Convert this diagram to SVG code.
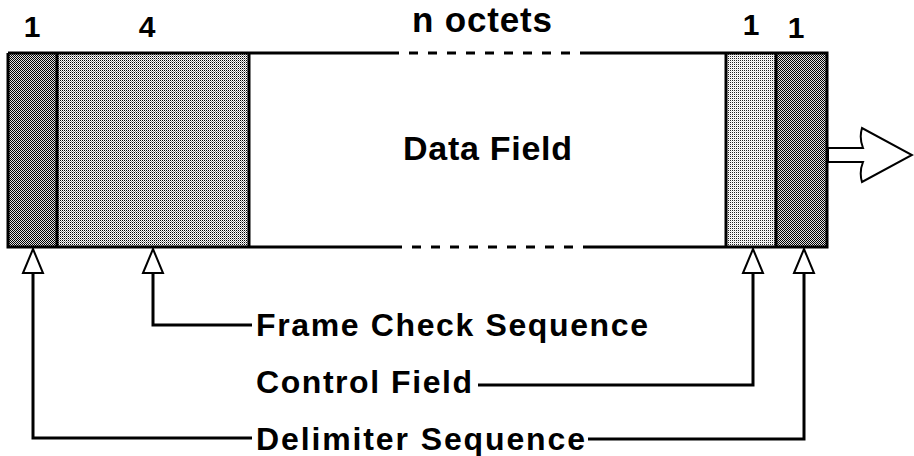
<svg xmlns="http://www.w3.org/2000/svg" width="914" height="456" viewBox="0 0 914 456">
<style>
  .lbl { font-family: "Liberation Sans", Arial, sans-serif; font-weight: bold; fill: #000; }
  .edge { fill: none; stroke: #000; stroke-width: 3; }
  .div { stroke: #000; stroke-width: 3; }
  .conn { fill: none; stroke: #000; stroke-width: 3; marker-start: url(#hollow); }
</style>
<defs>
  <pattern id="patDark" width="2" height="2" patternUnits="userSpaceOnUse">
    <rect width="2" height="2" fill="#e0e0e0"/>
    <rect x="0" y="0" width="1" height="1" fill="#000"/>
    <rect x="1" y="1" width="1" height="1" fill="#000"/>
  </pattern>
  <pattern id="patMid" width="2" height="2" patternUnits="userSpaceOnUse">
    <rect width="2" height="2" fill="#fff"/>
    <rect x="0" y="0" width="1" height="1" fill="#000"/>
    <rect x="1" y="1" width="1" height="1" fill="#8a8a8a"/>
  </pattern>
  <pattern id="patLight" width="2" height="2" patternUnits="userSpaceOnUse">
    <rect width="2" height="2" fill="#fff"/>
    <rect x="0" y="0" width="1" height="1" fill="#222"/>
    <rect x="1" y="1" width="1" height="1" fill="#e0e0e0"/>
  </pattern>
  <marker id="hollow" viewBox="-2 -2 28 24" markerWidth="28" markerHeight="24" refX="0" refY="10" orient="auto-start-reverse" markerUnits="userSpaceOnUse">
    <path d="M0,0 L24,10 L0,20 Z" fill="#fff" stroke="#000" stroke-width="2" stroke-linejoin="miter"/>
  </marker>
</defs>
<rect width="914" height="456" fill="#fff"/>

<g id="delimiter-start">
  <rect x="8" y="53" width="49" height="194" fill="url(#patDark)"/>
  <text class="lbl" x="32" y="37" font-size="30" text-anchor="middle">1</text>
</g>
<g id="frame-check-sequence">
  <rect x="57" y="53" width="192" height="194" fill="url(#patMid)"/>
  <text class="lbl" x="147" y="37" font-size="30" text-anchor="middle">4</text>
</g>
<g id="data-field">
  <rect x="249" y="53" width="477" height="194" fill="#fff"/>
  <text class="lbl" x="412" y="32" font-size="35" textLength="140">n octets</text>
  <text class="lbl" x="403" y="160" font-size="34" textLength="169">Data Field</text>
</g>
<g id="control-field">
  <rect x="726" y="53" width="50" height="194" fill="url(#patLight)"/>
  <text class="lbl" x="751" y="35" font-size="30" text-anchor="middle">1</text>
</g>
<g id="delimiter-end">
  <rect x="776" y="53" width="51" height="194" fill="url(#patDark)"/>
  <text class="lbl" x="796" y="38" font-size="30" text-anchor="middle">1</text>
</g>

<g id="frame-outline">
  <path class="edge" d="M8,53 H390 M583,53 H827 V247 H585 M393,247 H8 V53"/>
  <path class="edge" d="M390,53 H583 M393,247 H585" stroke-dasharray="9 10"/>
  <line class="div" x1="57" y1="53" x2="57" y2="247"/>
  <line class="div" x1="249" y1="53" x2="249" y2="247"/>
  <line class="div" x1="726" y1="53" x2="726" y2="247"/>
  <line class="div" x1="776" y1="53" x2="776" y2="247"/>
</g>

<g id="output-arrow">
  <path d="M828,148 H863 Q859,138 862,128 L912,155 L862,182 Q859,172 863,162 H828 Z" fill="#fff" stroke="#000" stroke-width="2" stroke-linejoin="miter"/>
</g>

<g id="labels">
  <text class="lbl" x="256" y="336" font-size="32" textLength="392">Frame Check Sequence</text>
  <text class="lbl" x="256" y="393" font-size="32" textLength="216">Control Field</text>
  <text class="lbl" x="256" y="450" font-size="32" textLength="329">Delimiter Sequence</text>
</g>

<g id="connectors">
  <path class="conn" d="M33,273 V438 H252"/>
  <path class="conn" d="M153,273 V325 H252"/>
  <path class="conn" d="M753,273 V385 H478"/>
  <path class="conn" d="M804,273 V439 H588"/>
</g>
</svg>
